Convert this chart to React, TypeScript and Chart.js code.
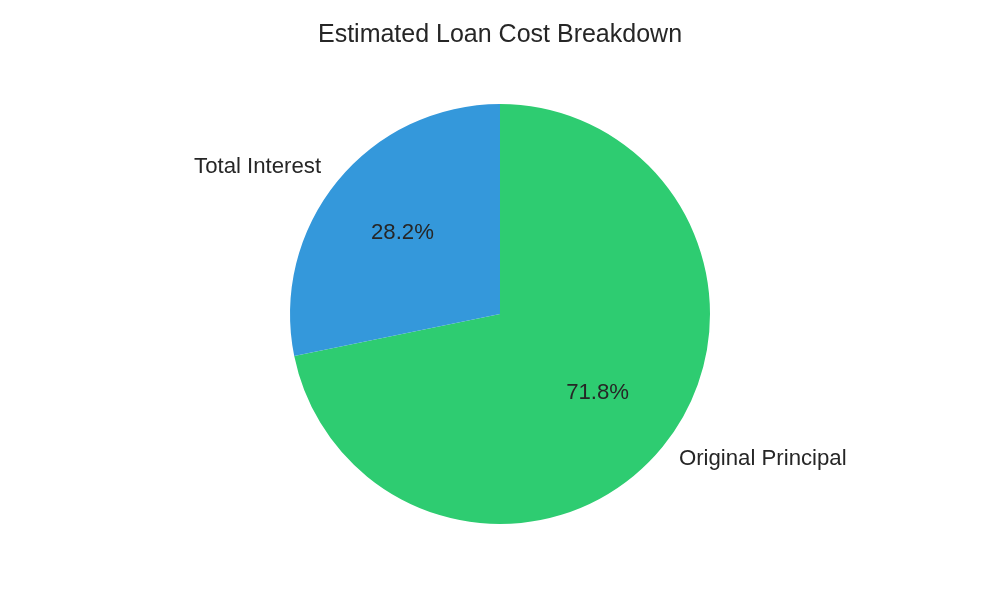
import React, { useEffect, useRef } from "react";
import { Chart, registerables } from "chart.js";

Chart.register(...registerables);

const categories = ["Original Principal", "Total Interest"];
const shares = [71.8, 28.2];
const colors = ["#2ecc71", "#3498db"];
const chartTitle = "Estimated Loan Cost Breakdown";

const TEXT = "#262626";
const FONT = "'Liberation Sans', Arial, sans-serif";

const labelPlugin = {
  id: "pieLabels",
  afterDraw(chart: any) {
    const ctx = chart.ctx as CanvasRenderingContext2D;
    const meta = chart.getDatasetMeta(0);
    ctx.save();
    ctx.fillStyle = TEXT;
    // title
    ctx.font = `25px ${FONT}`;
    ctx.textAlign = "center";
    ctx.textBaseline = "middle";
    ctx.fillText(chartTitle, chart.width / 2, 35);
    meta.data.forEach((arc: any, i: number) => {
      const { x, y, startAngle, endAngle, outerRadius } = arc.getProps(
        ["x", "y", "startAngle", "endAngle", "outerRadius"],
        true
      );
      const mid = (startAngle + endAngle) / 2;
      const cx = Math.cos(mid);
      const cy = Math.sin(mid);
      ctx.font = `22.2px ${FONT}`;
      ctx.textBaseline = "middle";
      // percentage
      ctx.textAlign = "center";
      ctx.fillText(
        shares[i].toFixed(1) + "%",
        x + cx * outerRadius * 0.6,
        y + cy * outerRadius * 0.6 - 1
      );
      // outer label
      ctx.textAlign = cx >= 0 ? "left" : "right";
      ctx.fillText(
        categories[i],
        x + cx * outerRadius * 1.1,
        y + cy * outerRadius * 1.1 - 1
      );
    });
    ctx.restore();
  },
};

export default function App() {
  const ref = useRef<HTMLCanvasElement | null>(null);
  useEffect(() => {
    document.body.style.margin = "0";
    const chart = new Chart(ref.current as HTMLCanvasElement, {
      type: "pie",
      data: {
        labels: categories,
        datasets: [
          {
            data: shares,
            backgroundColor: colors,
            borderWidth: 0,
          },
        ],
      },
      options: {
        animation: false,
        responsive: false,
        layout: { padding: { top: 104, bottom: 76, left: 290, right: 290 } },
        plugins: {
          legend: { display: false },
          title: { display: false },
          tooltip: { enabled: false },
        },
      },
      plugins: [labelPlugin],
    });
    return () => chart.destroy();
  }, []);
  return (
    <div style={{ width: 1000, height: 600, background: "#fff" }}>
      <canvas ref={ref} width={1000} height={600} />
    </div>
  );
}
